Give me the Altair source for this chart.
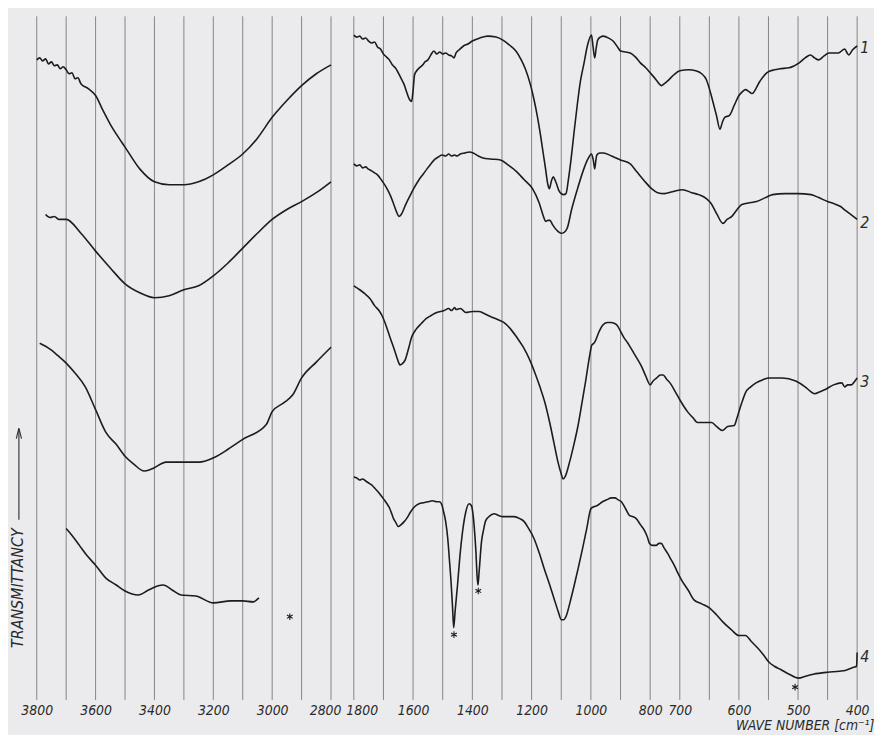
import altair as alt
import pandas as pd

# ---------------- data (wavenumber cm-1, transmittance in arbitrary units) --------------
c1_left_wn = [3800, 3790, 3780, 3770, 3760, 3750, 3740, 3730, 3720, 3710, 3700, 3690, 3680, 3670, 3660, 3650,
              3625, 3600, 3575, 3550, 3525, 3500, 3450, 3400, 3350, 3300, 3250, 3200, 3150, 3100, 3050,
              3000, 2950, 2900, 2850, 2800]
c1_left_t = [646, 648, 645, 647, 642, 644, 640, 641, 637, 639, 636, 632, 633, 627, 628, 622,
             617, 610, 595, 581, 569, 558, 536, 523, 520, 520, 523, 530, 540, 551, 567,
             588, 605, 620, 632, 641]

c2_left_wn = [3770, 3755, 3740, 3725, 3700, 3650, 3600, 3550, 3500, 3450, 3400, 3350, 3300, 3250, 3200,
              3150, 3100, 3050, 3000, 2950, 2900, 2850, 2800]
c2_left_t = [490, 487, 488, 485, 485, 471, 453, 436, 420, 411, 406, 408, 414, 418, 428,
             441, 456, 471, 485, 495, 503, 512, 523]

c3_left_wn = [3790, 3770, 3750, 3730, 3700, 3670, 3635, 3600, 3565, 3530, 3500, 3470, 3435, 3410, 3360,
              3300, 3250, 3195, 3150, 3100, 3020, 3000, 2960, 2930, 2900, 2850, 2800]
c3_left_t = [360, 357, 353, 348, 340, 330, 316, 293, 270, 258, 246, 238, 231, 233, 240,
             240, 240, 245, 253, 263, 278, 291, 300, 308, 325, 341, 356]

c4_left_wn = [3700, 3680, 3655, 3630, 3600, 3565, 3530, 3500, 3455, 3420, 3390, 3370, 3340, 3310, 3260,
              3200, 3140, 3100, 3065, 3045]
c4_left_t = [173, 166, 156, 146, 136, 123, 116, 110, 106, 111, 115, 116, 111, 106, 105,
             98, 100, 100, 99, 103]

c1_right_wn = [1800, 1790, 1780, 1770, 1760, 1750, 1740, 1730, 1720, 1710, 1700, 1690, 1680, 1670, 1660,
               1650, 1640, 1630, 1620, 1612, 1605, 1600, 1595, 1585, 1575, 1567, 1560, 1550, 1540, 1530,
               1520, 1510, 1500, 1490, 1480, 1470, 1462, 1455, 1445, 1430, 1415, 1400, 1375, 1348, 1320,
               1297, 1275, 1253, 1235, 1220, 1205, 1192, 1180, 1170, 1160, 1153, 1145, 1140, 1133, 1127,
               1120, 1116, 1108, 1100, 1092, 1084, 1076, 1068, 1056, 1045, 1035, 1023, 1012, 998, 993,
               987, 982, 977, 968, 958, 940, 925, 910, 900, 867, 850, 833, 815, 800, 780,
               770, 762, 752, 740, 720, 700, 685, 673, 663, 655, 650, 645, 638, 632, 628,
               624, 616, 608, 600, 594, 589, 583, 578, 565, 553, 540, 531, 515, 498, 488,
               479, 472, 465, 456, 448, 432, 421, 417, 414, 408, 400]
c1_right_t = [671, 669, 670, 667, 668, 665, 663, 664, 659, 657, 652, 649, 646, 641, 638,
              633, 627, 621, 612, 606, 604, 615, 631, 636, 639, 641, 644, 646, 651, 655,
              652, 654, 652, 653, 651, 650, 648, 653, 656, 660, 662, 665, 668, 670, 669,
              666, 661, 655, 646, 636, 622, 606, 588, 570, 550, 536, 520, 516, 524, 528,
              524, 521, 514, 511, 510, 511, 525, 543, 575, 603, 625, 643, 660, 671, 660,
              648, 658, 666, 669, 670, 668, 665, 659, 655, 653, 649, 643, 638, 633, 626,
              622, 620, 622, 625, 631, 635, 636, 635, 632, 626, 617, 606, 590, 576, 583,
              588, 590, 600, 610, 614, 616, 614, 612, 624, 633, 636, 637, 638, 643, 648,
              651, 648, 646, 650, 653, 653, 657, 653, 651, 656, 660]

c2_right_wn = [1800, 1790, 1780, 1770, 1760, 1752, 1740, 1730, 1720, 1705, 1688, 1675, 1665, 1655, 1648,
               1640, 1625, 1610, 1598, 1580, 1565, 1553, 1540, 1525, 1515, 1502, 1490, 1480, 1470, 1460,
               1452, 1440, 1425, 1410, 1397, 1380, 1364, 1340, 1305, 1280, 1250, 1225, 1197, 1175, 1160,
               1153, 1145, 1138, 1130, 1115, 1100, 1090, 1080, 1065, 1045, 1025, 1010, 998, 992, 987,
               983, 980, 970, 958, 930, 900, 867, 845, 820, 795, 775, 752, 725, 695, 680,
               668, 655, 647, 637, 627, 620, 612, 603, 595, 580, 570, 555, 543, 522, 500,
               478, 465, 450, 440, 428, 420, 411, 400]
c2_right_t = [541, 539, 540, 537, 538, 536, 534, 532, 530, 524, 516, 508, 500, 492, 488,
              490, 500, 509, 516, 525, 531, 536, 541, 546, 548, 550, 549, 551, 549, 550,
              549, 551, 552, 553, 552, 549, 547, 546, 545, 540, 533, 525, 516, 502, 488,
              483, 484, 484, 480, 474, 471, 472, 476, 495, 516, 535, 546, 551, 545, 536,
              545, 550, 552, 552, 549, 545, 541, 533, 524, 516, 512, 511, 513, 515, 512,
              510, 506, 501, 490, 481, 485, 488, 495, 500, 502, 503, 507, 510, 511, 511,
              510, 507, 503, 501, 498, 494, 490, 485]

c3_right_wn = [1800, 1780, 1763, 1745, 1730, 1715, 1705, 1695, 1689, 1678, 1666, 1655, 1648, 1644, 1638,
               1627, 1615, 1605, 1590, 1572, 1555, 1539, 1520, 1495, 1480, 1470, 1460, 1455, 1440, 1422,
               1400, 1378, 1360, 1339, 1315, 1294, 1270, 1250, 1228, 1206, 1190, 1172, 1155, 1139, 1125,
               1111, 1100, 1094, 1086, 1072, 1058, 1044, 1030, 1017, 1005, 997, 990, 984, 972, 961,
               945, 933, 920, 911, 900, 889, 875, 861, 845, 828, 815, 800, 790, 778, 766,
               756, 745, 733, 715, 700, 687, 678, 670, 658, 646, 638, 628, 619, 608, 603,
               599, 594, 589, 580, 571, 560, 549, 527, 504, 488, 480, 472, 463, 455, 440,
               426, 421, 416, 410, 405, 400]
c3_right_t = [418, 414, 410, 405, 398, 393, 388, 381, 376, 366, 356, 346, 340, 338, 339,
              343, 355, 366, 374, 380, 385, 388, 391, 393, 395, 393, 396, 394, 395, 391,
              392, 392, 390, 387, 384, 381, 374, 366, 356, 343, 331, 316, 300, 280, 260,
              240, 228, 223, 226, 240, 257, 276, 300, 323, 346, 358, 360, 363, 372, 378,
              381, 381, 380, 378, 372, 366, 360, 353, 345, 336, 327, 318, 322, 325, 328,
              328, 324, 320, 311, 303, 291, 285, 280, 280, 280, 276, 272, 276, 277, 285,
              293, 302, 310, 316, 320, 323, 325, 325, 322, 316, 312, 309, 311, 313, 318,
              320, 316, 318, 318, 321, 325]

c4_right_wn = [1800, 1790, 1780, 1770, 1760, 1750, 1740, 1733, 1727, 1715, 1705, 1695, 1688, 1680, 1672,
               1666, 1658, 1650, 1640, 1630, 1622, 1608, 1595, 1580, 1565, 1550, 1535, 1520, 1511, 1503,
               1497, 1490, 1483, 1477, 1472, 1467, 1463, 1458, 1450, 1442, 1433, 1422, 1411, 1403, 1398,
               1394, 1388, 1384, 1381, 1377, 1369, 1362, 1355, 1340, 1327, 1310, 1298, 1280, 1259, 1240,
               1225, 1210, 1192, 1175, 1158, 1140, 1125, 1110, 1100, 1092, 1083, 1070, 1056, 1042, 1028,
               1014, 1000, 990, 980, 961, 947, 930, 919, 908, 897, 883, 869, 858, 847, 833,
               819, 810, 802, 792, 780, 770, 763, 752, 741, 730, 719, 708, 697, 686, 676,
               663, 650, 638, 626, 613, 600, 589, 579, 569, 559, 549, 540, 530, 515, 499,
               487, 474, 450, 430, 419, 406, 401, 400]
c4_right_t = [225, 224, 222, 223, 221, 219, 217, 215, 213, 209, 205, 201, 198, 194, 188,
              183, 179, 175, 177, 180, 183, 190, 195, 198, 199, 200, 201, 200, 200, 197,
              190, 180, 163, 140, 120, 95, 73, 90, 116, 145, 170, 190, 198, 196, 188,
              176, 150, 125, 116, 130, 160, 172, 181, 186, 188, 186, 185, 185, 185, 183,
              180, 173, 163, 149, 133, 117, 103, 89, 81, 81, 85, 99, 116, 134, 153,
              173, 193, 195, 196, 200, 202, 204, 204, 202, 200, 193, 186, 185, 183, 177,
              171, 165, 158, 156, 156, 158, 158, 153, 148, 142, 136, 129, 121, 111, 101,
              97, 93, 86, 78, 71, 65, 65, 59, 53, 46, 38, 34, 31, 26, 22,
              24, 26, 28, 29, 30, 33, 34, 48]

curve_names = ["1", "2", "3", "4"]
curve_labels_t = [658, 481, 321, 43]

asterisk_wn = [2940, 1462, 1380, 505]
asterisk_t = [84, 66, 110, 13]

grid_wn = [3800, 3700, 3600, 3500, 3400, 3300, 3200, 3100, 3000, 2900, 2800,
           1800, 1700, 1600, 1500, 1400, 1300, 1200, 1100, 1000,
           900, 800, 700, 650, 600, 550, 500, 450, 400]
tick_labels = [3800, 3600, 3400, 3200, 3000, 2800, 1800, 1600, 1400, 1200, 1000,
               800, 700, 600, 500, 400]

# ---------------- tables -----------------
rows = []
segments = [
    ("1L", c1_left_wn, c1_left_t), ("2L", c2_left_wn, c2_left_t),
    ("3L", c3_left_wn, c3_left_t), ("4L", c4_left_wn, c4_left_t),
    ("1R", c1_right_wn, c1_right_t), ("2R", c2_right_wn, c2_right_t),
    ("3R", c3_right_wn, c3_right_t), ("4R", c4_right_wn, c4_right_t),
]
for seg, wns, ts in segments:
    for i, (w, t) in enumerate(zip(wns, ts)):
        rows.append({"seg": seg, "i": i, "wn": w, "t": t})
curves = pd.DataFrame(rows)
grid = pd.DataFrame({"wn": grid_wn})
labels = pd.DataFrame({"wn": [400] * 4, "t": curve_labels_t, "name": curve_names})
stars = pd.DataFrame({"wn": asterisk_wn, "t": asterisk_t})

# ---------------- scales / axes -----------------
FONT = "DejaVu Sans Condensed, DejaVu Sans, sans-serif"
INK = "#1c1c1c"
TXT = "#2a2a2a"

xscale = alt.Scale(domain=[3800, 2800, 1800, 700, 400], range=[0, 297, 320, 649, 828])
yscale = alt.Scale(domain=[0, 690])

xaxis = alt.Axis(
    values=tick_labels, format="d", grid=False, ticks=False, domain=False,
    labelFont=FONT, labelFontSize=14, labelFontStyle="italic", labelColor=TXT,
    labelPadding=4, labelOverlap=False, labelFlush=False,
    labelOffset={"condition": [{"test": "datum.value == 2800", "value": -6},
                               {"test": "datum.value == 1800", "value": 8}], "value": 0},
    title="WAVE NUMBER [cm\u207b\u00b9]", titleFont=FONT, titleFontSize=14,
    titleFontStyle="italic", titleFontWeight="normal", titleColor=TXT,
    titleAnchor="start", titleAlign="right", titleBaseline="alphabetic",
    titleX=845, titleY=30,
)
yaxis = alt.Axis(
    labels=False, ticks=False, domain=False, grid=False,
    title="TRANSMITTANCY", titleFont=FONT, titleFontSize=16, titleFontStyle="italic",
    titleFontWeight="normal", titleColor=TXT, titleAngle=270,
    titleAlign="left", titleBaseline="middle", titleX=-19, titleY=637,
)

X = alt.X("wn:Q", scale=xscale, axis=xaxis)
Y = alt.Y("t:Q", scale=yscale, axis=yaxis)

grid_layer = alt.Chart(grid).mark_rule(color="#6a6a6a", strokeWidth=0.8).encode(x=X)

curve_layer = alt.Chart(curves).mark_line(
    color=INK, strokeWidth=1.6, strokeJoin="round", interpolate="monotone"
).encode(x=X, y=Y, detail="seg:N", order="i:Q")

label_layer = alt.Chart(labels).mark_text(
    font=FONT, fontSize=16, fontStyle="italic", color=TXT, align="left", baseline="middle", dx=3
).encode(x=X, y=Y, text="name:N")

star_layer = alt.Chart(stars).mark_point(
    shape="M0,-1L0,1M-0.87,-0.5L0.87,0.5M-0.87,0.5L0.87,-0.5",
    filled=False, size=45, strokeWidth=1.1, color=INK, opacity=1
).encode(x=X, y=Y)

arrow_df = pd.DataFrame({"t": [182], "t2": [273]})
arrow_line = alt.Chart(arrow_df).mark_rule(color=TXT, strokeWidth=1.1).encode(
    x=alt.value(-18), y=alt.Y("t:Q", scale=yscale, axis=yaxis), y2="t2:Q"
)
arrow_head = alt.Chart(arrow_df).mark_point(
    shape="M-0.5,1L0,-1L0.5,1", filled=False, size=110, strokeWidth=1.1, color=TXT, opacity=1
).encode(x=alt.value(-18), y=alt.Y("t2:Q", scale=yscale, axis=yaxis), yOffset=alt.value(4))

chart = alt.layer(grid_layer, curve_layer, label_layer, star_layer, arrow_line, arrow_head).properties(
    width=828, height=690,
    padding={"left": 29, "top": 5, "right": 17, "bottom": 32},
    autosize=alt.AutoSizeParams(type="none"),
    background="#ebebed",
).configure_view(stroke=None)

chart.save("out.html", embed_options={"renderer": "svg", "actions": False})
